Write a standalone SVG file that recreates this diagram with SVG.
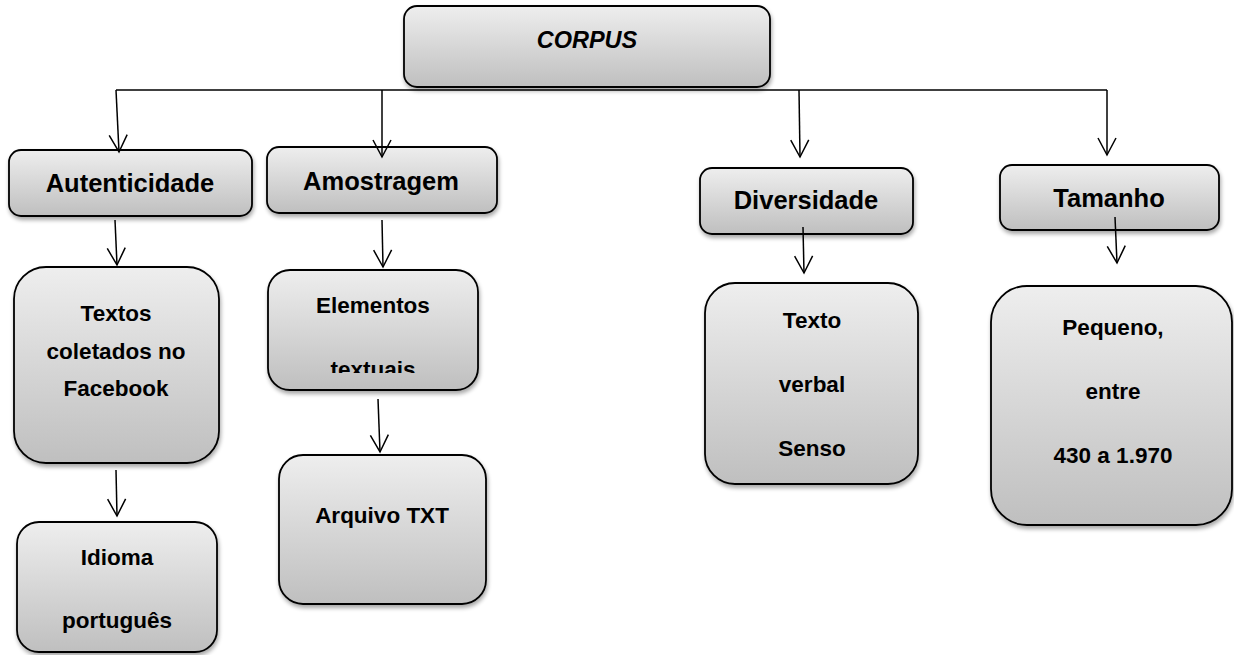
<svg xmlns="http://www.w3.org/2000/svg" width="1234" height="655" viewBox="0 0 1234 655">
<defs>
<linearGradient id="g" x1="0" y1="0" x2="0" y2="1">
<stop offset="0" stop-color="#eeeeee"/>
<stop offset="1" stop-color="#bfbfbf"/>
</linearGradient>
<filter id="sh" x="-10%" y="-10%" width="125%" height="130%">
<feGaussianBlur in="SourceAlpha" stdDeviation="2"/>
<feOffset dx="1" dy="3" result="b"/>
<feComponentTransfer><feFuncA type="linear" slope="0.35"/></feComponentTransfer>
<feMerge><feMergeNode/><feMergeNode in="SourceGraphic"/></feMerge>
</filter>
<marker id="arr" markerUnits="userSpaceOnUse" viewBox="-20 -12 24 24" refX="0" refY="0" markerWidth="24" markerHeight="24" orient="auto" overflow="visible">
<path d="M-17,-9 L0,0 L-17,9" fill="none" stroke="#000" stroke-width="1.5"/>
</marker>
<clipPath id="clipEl"><rect x="260" y="260" width="230" height="113"/></clipPath>
</defs>
<style>
.box{fill:url(#g);stroke:#000;stroke-width:1.8;filter:url(#sh)}
.h{font-family:"Liberation Sans",Arial,sans-serif;font-weight:bold;font-size:25.5px;text-anchor:middle;fill:#000}
.t{font-family:"Liberation Sans",Arial,sans-serif;font-weight:bold;font-size:22.5px;text-anchor:middle;fill:#000}
.c{font-family:"Liberation Sans",Arial,sans-serif;font-weight:bold;font-style:italic;font-size:23.5px;text-anchor:middle;fill:#000}
.ln{fill:none;stroke:#000;stroke-width:1.5}
.ar{fill:none;stroke:#000;stroke-width:1.5;marker-end:url(#arr)}
</style>
<rect width="1234" height="655" fill="#fff"/>
<g id="corpus"><rect class="box" x="404" y="6" width="366" height="81" rx="13"/><text class="c" x="587" y="48">CORPUS</text></g>
<g id="autenticidade"><rect class="box" x="9" y="150" width="243" height="66" rx="12"/><text class="h" x="130" y="192">Autenticidade</text></g>
<g id="amostragem"><rect class="box" x="267" y="147" width="230" height="66" rx="12"/><text class="h" x="381" y="190">Amostragem</text></g>
<g id="diversidade"><rect class="box" x="700" y="168" width="213" height="66" rx="12"/><text class="h" x="806" y="209">Diversidade</text></g>
<g id="tamanho"><rect class="box" x="1000" y="165" width="219" height="65" rx="12"/><text class="h" x="1109" y="207">Tamanho</text></g>
<g id="textos"><rect class="box" x="14" y="267" width="205" height="196" rx="32"/><text class="t" x="116" y="321">Textos</text><text class="t" x="116" y="359">coletados no</text><text class="t" x="116" y="396">Facebook</text></g>
<g id="idioma"><rect class="box" x="17" y="522" width="200" height="130" rx="22"/><text class="t" x="117" y="565">Idioma</text><text class="t" x="117" y="628">português</text></g>
<g id="elementos"><rect class="box" x="268" y="270" width="210" height="120" rx="22"/><text class="t" x="373" y="313">Elementos</text><text class="t" x="373" y="377" clip-path="url(#clipEl)">textuais</text></g>
<g id="arquivo"><rect class="box" x="279" y="455" width="207" height="149" rx="24"/><text class="t" x="382" y="523">Arquivo TXT</text></g>
<g id="texto"><rect class="box" x="705" y="283" width="213" height="201" rx="30"/><text class="t" x="812" y="328">Texto</text><text class="t" x="812" y="392">verbal</text><text class="t" x="812" y="456">Senso</text></g>
<g id="pequeno"><rect class="box" x="991" y="286" width="241" height="239" rx="36"/><text class="t" x="1113" y="335">Pequeno,</text><text class="t" x="1113" y="399">entre</text><text class="t" x="1113" y="463">430 a 1.970</text></g>
<g id="connectors">
<path class="ln" d="M116,90 H1107" stroke-width="2"/>
<path class="ar" d="M116,90 L119,152"/>
<path class="ar" d="M382,90 L382,157"/>
<path class="ar" d="M799,90 L800,157"/>
<path class="ar" d="M1107,90 L1107,155"/>
<path class="ar" d="M115,220 L117,265"/>
<path class="ar" d="M382,220 L383,267"/>
<path class="ar" d="M116,470 L117,516"/>
<path class="ar" d="M378,399 L380,452"/>
<path class="ar" d="M803,227 L804,273"/>
<path class="ar" d="M1115,217 L1117,263"/>
</g>
</svg>
